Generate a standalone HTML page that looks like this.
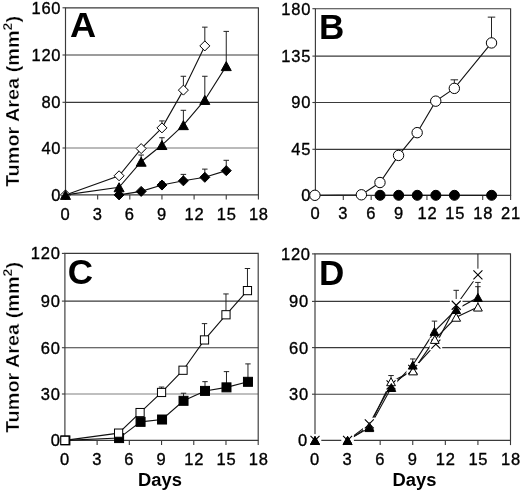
<!DOCTYPE html>
<html><head><meta charset="utf-8"><title>Tumor Area vs Days</title>
<style>
html,body{margin:0;padding:0;background:#fff;}
svg{display:block;will-change:transform;}
text{font-family:"Liberation Sans",Arial,Helvetica,sans-serif;fill:#000;}
.tk{font-size:16.5px;stroke:#000;stroke-width:0.35px;letter-spacing:0.75px;}
.L{font-size:35px;font-weight:bold;}
.ax{font-size:18.1px;font-weight:bold;}
.ay{font-size:19px;font-weight:bold;stroke:#fff;stroke-width:0.3px;}
</style></head><body>
<svg width="520" height="492" viewBox="0 0 520 492">
<rect width="520" height="492" fill="#fff"/>
<line x1="65.5" y1="55.00" x2="258.4" y2="55.00" stroke="#3a3a3a" stroke-width="1.15"/>
<line x1="65.5" y1="102.30" x2="258.4" y2="102.30" stroke="#3a3a3a" stroke-width="1.15"/>
<line x1="65.5" y1="148.00" x2="258.4" y2="148.00" stroke="#777" stroke-width="1.15"/>
<path d="M65.5,7.8H258.4V194.9H65.5Z" fill="none" stroke="#3a3a3a" stroke-width="1.15"/>
<line x1="65.50" y1="194.9" x2="65.50" y2="199.6" stroke="#3a3a3a" stroke-width="1.1"/>
<text x="65.50" y="219.70" text-anchor="middle" class="tk">0</text>
<line x1="97.65" y1="194.9" x2="97.65" y2="199.6" stroke="#3a3a3a" stroke-width="1.1"/>
<text x="97.65" y="219.70" text-anchor="middle" class="tk">3</text>
<line x1="129.80" y1="194.9" x2="129.80" y2="199.6" stroke="#3a3a3a" stroke-width="1.1"/>
<text x="129.80" y="219.70" text-anchor="middle" class="tk">6</text>
<line x1="161.95" y1="194.9" x2="161.95" y2="199.6" stroke="#3a3a3a" stroke-width="1.1"/>
<text x="161.95" y="219.70" text-anchor="middle" class="tk">9</text>
<line x1="194.10" y1="194.9" x2="194.10" y2="199.6" stroke="#3a3a3a" stroke-width="1.1"/>
<text x="194.55" y="219.70" text-anchor="middle" class="tk">12</text>
<line x1="226.25" y1="194.9" x2="226.25" y2="199.6" stroke="#3a3a3a" stroke-width="1.1"/>
<text x="226.70" y="219.70" text-anchor="middle" class="tk">15</text>
<line x1="258.40" y1="194.9" x2="258.40" y2="199.6" stroke="#3a3a3a" stroke-width="1.1"/>
<text x="258.85" y="219.70" text-anchor="middle" class="tk">18</text>
<line x1="62.5" y1="194.90" x2="65.5" y2="194.90" stroke="#3a3a3a" stroke-width="1.1"/>
<text x="61.25" y="200.80" text-anchor="end" class="tk">0</text>
<line x1="62.5" y1="148.00" x2="65.5" y2="148.00" stroke="#3a3a3a" stroke-width="1.1"/>
<text x="61.25" y="153.90" text-anchor="end" class="tk">40</text>
<line x1="62.5" y1="102.30" x2="65.5" y2="102.30" stroke="#3a3a3a" stroke-width="1.1"/>
<text x="61.25" y="108.20" text-anchor="end" class="tk">80</text>
<line x1="62.5" y1="55.00" x2="65.5" y2="55.00" stroke="#3a3a3a" stroke-width="1.1"/>
<text x="61.25" y="60.90" text-anchor="end" class="tk">120</text>
<line x1="62.5" y1="7.80" x2="65.5" y2="7.80" stroke="#3a3a3a" stroke-width="1.1"/>
<text x="61.25" y="13.70" text-anchor="end" class="tk">160</text>
<line x1="161.95" y1="127.89" x2="161.95" y2="120.92" stroke="#222" stroke-width="1"/>
<line x1="159.20" y1="120.92" x2="164.70" y2="120.92" stroke="#222" stroke-width="1"/>
<line x1="183.38" y1="90.12" x2="183.38" y2="76.28" stroke="#222" stroke-width="1"/>
<line x1="180.63" y1="76.28" x2="186.13" y2="76.28" stroke="#222" stroke-width="1"/>
<line x1="204.82" y1="45.91" x2="204.82" y2="27.15" stroke="#222" stroke-width="1"/>
<line x1="202.07" y1="27.15" x2="207.57" y2="27.15" stroke="#222" stroke-width="1"/>
<polyline points="65.50,194.90 119.08,175.79 141.16,148.59 161.95,127.89 183.38,90.12 204.82,45.91" fill="none" stroke="#111" stroke-width="1.1"/>
<polygon points="65.50,189.90 70.50,194.90 65.50,199.90 60.50,194.90" fill="#fff" stroke="#000" stroke-width="1"/>
<polygon points="119.08,170.79 124.08,175.79 119.08,180.79 114.08,175.79" fill="#fff" stroke="#000" stroke-width="1"/>
<polygon points="141.16,143.59 146.16,148.59 141.16,153.59 136.16,148.59" fill="#fff" stroke="#000" stroke-width="1"/>
<polygon points="161.95,122.89 166.95,127.89 161.95,132.89 156.95,127.89" fill="#fff" stroke="#000" stroke-width="1"/>
<polygon points="183.38,85.12 188.38,90.12 183.38,95.12 178.38,90.12" fill="#fff" stroke="#000" stroke-width="1"/>
<polygon points="204.82,40.91 209.82,45.91 204.82,50.91 199.82,45.91" fill="#fff" stroke="#000" stroke-width="1"/>
<line x1="161.95" y1="185.05" x2="161.95" y2="182.00" stroke="#222" stroke-width="1"/>
<line x1="159.20" y1="182.00" x2="164.70" y2="182.00" stroke="#222" stroke-width="1"/>
<line x1="183.38" y1="180.83" x2="183.38" y2="174.38" stroke="#222" stroke-width="1"/>
<line x1="180.63" y1="174.38" x2="186.13" y2="174.38" stroke="#222" stroke-width="1"/>
<line x1="204.82" y1="177.31" x2="204.82" y2="169.11" stroke="#222" stroke-width="1"/>
<line x1="202.07" y1="169.11" x2="207.57" y2="169.11" stroke="#222" stroke-width="1"/>
<line x1="226.25" y1="170.63" x2="226.25" y2="160.31" stroke="#222" stroke-width="1"/>
<line x1="223.50" y1="160.31" x2="229.00" y2="160.31" stroke="#222" stroke-width="1"/>
<polyline points="119.08,194.90 141.16,191.38 161.95,185.05 183.38,180.83 204.82,177.31 226.25,170.63" fill="none" stroke="#111" stroke-width="1.1"/>
<polygon points="119.08,189.90 124.08,194.90 119.08,199.90 114.08,194.90" fill="#000" stroke="#000" stroke-width="1"/>
<polygon points="141.16,186.38 146.16,191.38 141.16,196.38 136.16,191.38" fill="#000" stroke="#000" stroke-width="1"/>
<polygon points="161.95,180.05 166.95,185.05 161.95,190.05 156.95,185.05" fill="#000" stroke="#000" stroke-width="1"/>
<polygon points="183.38,175.83 188.38,180.83 183.38,185.83 178.38,180.83" fill="#000" stroke="#000" stroke-width="1"/>
<polygon points="204.82,172.31 209.82,177.31 204.82,182.31 199.82,177.31" fill="#000" stroke="#000" stroke-width="1"/>
<polygon points="226.25,165.63 231.25,170.63 226.25,175.63 221.25,170.63" fill="#000" stroke="#000" stroke-width="1"/>
<line x1="141.16" y1="161.72" x2="141.16" y2="155.03" stroke="#222" stroke-width="1"/>
<line x1="138.41" y1="155.03" x2="143.91" y2="155.03" stroke="#222" stroke-width="1"/>
<line x1="161.95" y1="145.03" x2="161.95" y2="137.72" stroke="#222" stroke-width="1"/>
<line x1="159.20" y1="137.72" x2="164.70" y2="137.72" stroke="#222" stroke-width="1"/>
<line x1="183.38" y1="125.15" x2="183.38" y2="110.30" stroke="#222" stroke-width="1"/>
<line x1="180.63" y1="110.30" x2="186.13" y2="110.30" stroke="#222" stroke-width="1"/>
<line x1="204.82" y1="99.94" x2="204.82" y2="76.28" stroke="#222" stroke-width="1"/>
<line x1="202.07" y1="76.28" x2="207.57" y2="76.28" stroke="#222" stroke-width="1"/>
<line x1="226.25" y1="66.12" x2="226.25" y2="31.40" stroke="#222" stroke-width="1"/>
<line x1="223.50" y1="31.40" x2="229.00" y2="31.40" stroke="#222" stroke-width="1"/>
<polyline points="65.50,194.90 119.08,187.28 141.16,161.72 161.95,145.03 183.38,125.15 204.82,99.94 226.25,66.12" fill="none" stroke="#111" stroke-width="1.1"/>
<polygon points="65.50,190.40 70.50,199.40 60.50,199.40" fill="#000" stroke="#000" stroke-width="1"/>
<polygon points="119.08,182.78 124.08,191.78 114.08,191.78" fill="#000" stroke="#000" stroke-width="1"/>
<polygon points="141.16,157.22 146.16,166.22 136.16,166.22" fill="#000" stroke="#000" stroke-width="1"/>
<polygon points="161.95,140.53 166.95,149.53 156.95,149.53" fill="#000" stroke="#000" stroke-width="1"/>
<polygon points="183.38,120.65 188.38,129.65 178.38,129.65" fill="#000" stroke="#000" stroke-width="1"/>
<polygon points="204.82,95.44 209.82,104.44 199.82,104.44" fill="#000" stroke="#000" stroke-width="1"/>
<polygon points="226.25,61.62 231.25,70.62 221.25,70.62" fill="#000" stroke="#000" stroke-width="1"/>
<line x1="315.4" y1="56.10" x2="510.6" y2="56.10" stroke="#3a3a3a" stroke-width="1.15"/>
<line x1="315.4" y1="102.50" x2="510.6" y2="102.50" stroke="#3a3a3a" stroke-width="1.15"/>
<line x1="315.4" y1="149.30" x2="510.6" y2="149.30" stroke="#3a3a3a" stroke-width="1.15"/>
<path d="M315.4,8.7H510.6V195.3H315.4Z" fill="none" stroke="#3a3a3a" stroke-width="1.15"/>
<line x1="315.40" y1="195.3" x2="315.40" y2="200.0" stroke="#3a3a3a" stroke-width="1.1"/>
<text x="315.40" y="219.10" text-anchor="middle" class="tk">0</text>
<line x1="343.29" y1="195.3" x2="343.29" y2="200.0" stroke="#3a3a3a" stroke-width="1.1"/>
<text x="343.29" y="219.10" text-anchor="middle" class="tk">3</text>
<line x1="371.17" y1="195.3" x2="371.17" y2="200.0" stroke="#3a3a3a" stroke-width="1.1"/>
<text x="371.17" y="219.10" text-anchor="middle" class="tk">6</text>
<line x1="399.06" y1="195.3" x2="399.06" y2="200.0" stroke="#3a3a3a" stroke-width="1.1"/>
<text x="399.06" y="219.10" text-anchor="middle" class="tk">9</text>
<line x1="426.94" y1="195.3" x2="426.94" y2="200.0" stroke="#3a3a3a" stroke-width="1.1"/>
<text x="427.39" y="219.10" text-anchor="middle" class="tk">12</text>
<line x1="454.83" y1="195.3" x2="454.83" y2="200.0" stroke="#3a3a3a" stroke-width="1.1"/>
<text x="455.28" y="219.10" text-anchor="middle" class="tk">15</text>
<line x1="482.71" y1="195.3" x2="482.71" y2="200.0" stroke="#3a3a3a" stroke-width="1.1"/>
<text x="483.16" y="219.10" text-anchor="middle" class="tk">18</text>
<line x1="510.60" y1="195.3" x2="510.60" y2="200.0" stroke="#3a3a3a" stroke-width="1.1"/>
<text x="511.05" y="219.10" text-anchor="middle" class="tk">21</text>
<line x1="312.4" y1="195.30" x2="315.4" y2="195.30" stroke="#3a3a3a" stroke-width="1.1"/>
<text x="311.15" y="201.20" text-anchor="end" class="tk">0</text>
<line x1="312.4" y1="149.30" x2="315.4" y2="149.30" stroke="#3a3a3a" stroke-width="1.1"/>
<text x="311.15" y="155.20" text-anchor="end" class="tk">45</text>
<line x1="312.4" y1="102.50" x2="315.4" y2="102.50" stroke="#3a3a3a" stroke-width="1.1"/>
<text x="311.15" y="108.40" text-anchor="end" class="tk">90</text>
<line x1="312.4" y1="56.10" x2="315.4" y2="56.10" stroke="#3a3a3a" stroke-width="1.1"/>
<text x="311.15" y="62.00" text-anchor="end" class="tk">135</text>
<line x1="312.4" y1="8.70" x2="315.4" y2="8.70" stroke="#3a3a3a" stroke-width="1.1"/>
<text x="311.15" y="14.60" text-anchor="end" class="tk">180</text>
<polyline points="380.07,195.30 398.66,195.30 417.25,195.30 435.84,195.30 454.43,195.30 491.61,195.30" fill="none" stroke="#111" stroke-width="1.1"/>
<circle cx="380.07" cy="195.30" r="5" fill="#000" stroke="#000" stroke-width="1"/>
<circle cx="398.66" cy="195.30" r="5" fill="#000" stroke="#000" stroke-width="1"/>
<circle cx="417.25" cy="195.30" r="5" fill="#000" stroke="#000" stroke-width="1"/>
<circle cx="435.84" cy="195.30" r="5" fill="#000" stroke="#000" stroke-width="1"/>
<circle cx="454.43" cy="195.30" r="5" fill="#000" stroke="#000" stroke-width="1"/>
<circle cx="491.61" cy="195.30" r="5" fill="#000" stroke="#000" stroke-width="1"/>
<line x1="454.33" y1="88.37" x2="454.33" y2="79.82" stroke="#222" stroke-width="1"/>
<line x1="450.58" y1="79.82" x2="458.08" y2="79.82" stroke="#222" stroke-width="1"/>
<line x1="491.51" y1="42.93" x2="491.51" y2="17.13" stroke="#222" stroke-width="1"/>
<line x1="487.76" y1="17.13" x2="495.26" y2="17.13" stroke="#222" stroke-width="1"/>
<polyline points="314.90,195.30 361.38,194.79 379.97,182.52 398.56,155.43 417.15,132.66 435.74,101.16 454.33,88.37 491.51,42.93" fill="none" stroke="#111" stroke-width="1.1"/>
<circle cx="314.90" cy="195.30" r="5.2" fill="#fff" stroke="#000" stroke-width="1"/>
<circle cx="361.38" cy="194.79" r="5.2" fill="#fff" stroke="#000" stroke-width="1"/>
<circle cx="379.97" cy="182.52" r="5.2" fill="#fff" stroke="#000" stroke-width="1"/>
<circle cx="398.56" cy="155.43" r="5.2" fill="#fff" stroke="#000" stroke-width="1"/>
<circle cx="417.15" cy="132.66" r="5.2" fill="#fff" stroke="#000" stroke-width="1"/>
<circle cx="435.74" cy="101.16" r="5.2" fill="#fff" stroke="#000" stroke-width="1"/>
<circle cx="454.33" cy="88.37" r="5.2" fill="#fff" stroke="#000" stroke-width="1"/>
<circle cx="491.51" cy="42.93" r="5.2" fill="#fff" stroke="#000" stroke-width="1"/>
<line x1="64.9" y1="301.10" x2="258.2" y2="301.10" stroke="#3a3a3a" stroke-width="1.15"/>
<line x1="64.9" y1="347.70" x2="258.2" y2="347.70" stroke="#3a3a3a" stroke-width="1.15"/>
<line x1="64.9" y1="394.00" x2="258.2" y2="394.00" stroke="#808080" stroke-width="1.15"/>
<path d="M64.9,253.4H258.2V440.4H64.9Z" fill="none" stroke="#3a3a3a" stroke-width="1.15"/>
<line x1="64.90" y1="440.4" x2="64.90" y2="445.09999999999997" stroke="#3a3a3a" stroke-width="1.1"/>
<text x="64.90" y="465.20" text-anchor="middle" class="tk">0</text>
<line x1="97.12" y1="440.4" x2="97.12" y2="445.09999999999997" stroke="#3a3a3a" stroke-width="1.1"/>
<text x="97.12" y="465.20" text-anchor="middle" class="tk">3</text>
<line x1="129.33" y1="440.4" x2="129.33" y2="445.09999999999997" stroke="#3a3a3a" stroke-width="1.1"/>
<text x="129.33" y="465.20" text-anchor="middle" class="tk">6</text>
<line x1="161.55" y1="440.4" x2="161.55" y2="445.09999999999997" stroke="#3a3a3a" stroke-width="1.1"/>
<text x="161.55" y="465.20" text-anchor="middle" class="tk">9</text>
<line x1="193.77" y1="440.4" x2="193.77" y2="445.09999999999997" stroke="#3a3a3a" stroke-width="1.1"/>
<text x="194.22" y="465.20" text-anchor="middle" class="tk">12</text>
<line x1="225.98" y1="440.4" x2="225.98" y2="445.09999999999997" stroke="#3a3a3a" stroke-width="1.1"/>
<text x="226.43" y="465.20" text-anchor="middle" class="tk">15</text>
<line x1="258.20" y1="440.4" x2="258.20" y2="445.09999999999997" stroke="#3a3a3a" stroke-width="1.1"/>
<text x="258.65" y="465.20" text-anchor="middle" class="tk">18</text>
<line x1="61.900000000000006" y1="440.40" x2="64.9" y2="440.40" stroke="#3a3a3a" stroke-width="1.1"/>
<text x="60.65" y="446.30" text-anchor="end" class="tk">0</text>
<line x1="61.900000000000006" y1="394.00" x2="64.9" y2="394.00" stroke="#3a3a3a" stroke-width="1.1"/>
<text x="60.65" y="399.90" text-anchor="end" class="tk">30</text>
<line x1="61.900000000000006" y1="347.70" x2="64.9" y2="347.70" stroke="#3a3a3a" stroke-width="1.1"/>
<text x="60.65" y="353.60" text-anchor="end" class="tk">60</text>
<line x1="61.900000000000006" y1="301.10" x2="64.9" y2="301.10" stroke="#3a3a3a" stroke-width="1.1"/>
<text x="60.65" y="307.00" text-anchor="end" class="tk">90</text>
<line x1="61.900000000000006" y1="253.40" x2="64.9" y2="253.40" stroke="#3a3a3a" stroke-width="1.1"/>
<text x="60.65" y="259.30" text-anchor="end" class="tk">120</text>
<line x1="183.53" y1="400.81" x2="183.53" y2="393.23" stroke="#222" stroke-width="1"/>
<line x1="180.83" y1="393.23" x2="186.23" y2="393.23" stroke="#222" stroke-width="1"/>
<line x1="205.01" y1="390.91" x2="205.01" y2="381.65" stroke="#222" stroke-width="1"/>
<line x1="202.31" y1="381.65" x2="207.71" y2="381.65" stroke="#222" stroke-width="1"/>
<line x1="226.48" y1="387.36" x2="226.48" y2="371.62" stroke="#222" stroke-width="1"/>
<line x1="223.78" y1="371.62" x2="229.18" y2="371.62" stroke="#222" stroke-width="1"/>
<line x1="247.96" y1="381.81" x2="247.96" y2="363.90" stroke="#222" stroke-width="1"/>
<line x1="245.26" y1="363.90" x2="250.66" y2="363.90" stroke="#222" stroke-width="1"/>
<polyline points="65.40,440.40 119.09,438.08 140.57,421.84 162.05,419.52 183.53,400.81 205.01,390.91 226.48,387.36 247.96,381.81" fill="none" stroke="#111" stroke-width="1.1"/>
<rect x="60.90" y="435.90" width="9.0" height="9.0" fill="#000" stroke="#000" stroke-width="1"/>
<rect x="114.59" y="433.58" width="9.0" height="9.0" fill="#000" stroke="#000" stroke-width="1"/>
<rect x="136.07" y="417.34" width="9.0" height="9.0" fill="#000" stroke="#000" stroke-width="1"/>
<rect x="157.55" y="415.02" width="9.0" height="9.0" fill="#000" stroke="#000" stroke-width="1"/>
<rect x="179.03" y="396.31" width="9.0" height="9.0" fill="#000" stroke="#000" stroke-width="1"/>
<rect x="200.51" y="386.41" width="9.0" height="9.0" fill="#000" stroke="#000" stroke-width="1"/>
<rect x="221.98" y="382.86" width="9.0" height="9.0" fill="#000" stroke="#000" stroke-width="1"/>
<rect x="243.46" y="377.31" width="9.0" height="9.0" fill="#000" stroke="#000" stroke-width="1"/>
<line x1="161.55" y1="392.46" x2="161.55" y2="387.06" stroke="#222" stroke-width="1"/>
<line x1="158.85" y1="387.06" x2="164.25" y2="387.06" stroke="#222" stroke-width="1"/>
<line x1="204.51" y1="339.93" x2="204.51" y2="323.62" stroke="#222" stroke-width="1"/>
<line x1="201.81" y1="323.62" x2="207.21" y2="323.62" stroke="#222" stroke-width="1"/>
<line x1="225.98" y1="314.77" x2="225.98" y2="293.95" stroke="#222" stroke-width="1"/>
<line x1="223.28" y1="293.95" x2="228.68" y2="293.95" stroke="#222" stroke-width="1"/>
<line x1="247.46" y1="290.61" x2="247.46" y2="268.50" stroke="#222" stroke-width="1"/>
<line x1="244.76" y1="268.50" x2="250.16" y2="268.50" stroke="#222" stroke-width="1"/>
<polyline points="64.90,440.40 118.59,433.13 140.07,412.56 161.55,392.46 183.03,370.23 204.51,339.93 225.98,314.77 247.46,290.61" fill="none" stroke="#111" stroke-width="1.1"/>
<rect x="60.80" y="436.30" width="8.2" height="8.2" fill="#fff" stroke="#000" stroke-width="1"/>
<rect x="114.49" y="429.03" width="8.2" height="8.2" fill="#fff" stroke="#000" stroke-width="1"/>
<rect x="135.97" y="408.46" width="8.2" height="8.2" fill="#fff" stroke="#000" stroke-width="1"/>
<rect x="157.45" y="388.36" width="8.2" height="8.2" fill="#fff" stroke="#000" stroke-width="1"/>
<rect x="178.93" y="366.13" width="8.2" height="8.2" fill="#fff" stroke="#000" stroke-width="1"/>
<rect x="200.41" y="335.83" width="8.2" height="8.2" fill="#fff" stroke="#000" stroke-width="1"/>
<rect x="221.88" y="310.67" width="8.2" height="8.2" fill="#fff" stroke="#000" stroke-width="1"/>
<rect x="243.36" y="286.51" width="8.2" height="8.2" fill="#fff" stroke="#000" stroke-width="1"/>
<line x1="315.0" y1="301.40" x2="510.5" y2="301.40" stroke="#3a3a3a" stroke-width="1.15"/>
<line x1="315.0" y1="347.60" x2="510.5" y2="347.60" stroke="#3a3a3a" stroke-width="1.15"/>
<line x1="315.0" y1="394.20" x2="510.5" y2="394.20" stroke="#3a3a3a" stroke-width="1.15"/>
<path d="M315.0,253.9H510.5V440.4H315.0Z" fill="none" stroke="#3a3a3a" stroke-width="1.15"/>
<line x1="315.00" y1="440.4" x2="315.00" y2="445.09999999999997" stroke="#3a3a3a" stroke-width="1.1"/>
<text x="315.00" y="465.20" text-anchor="middle" class="tk">0</text>
<line x1="347.58" y1="440.4" x2="347.58" y2="445.09999999999997" stroke="#3a3a3a" stroke-width="1.1"/>
<text x="347.58" y="465.20" text-anchor="middle" class="tk">3</text>
<line x1="380.17" y1="440.4" x2="380.17" y2="445.09999999999997" stroke="#3a3a3a" stroke-width="1.1"/>
<text x="380.17" y="465.20" text-anchor="middle" class="tk">6</text>
<line x1="412.75" y1="440.4" x2="412.75" y2="445.09999999999997" stroke="#3a3a3a" stroke-width="1.1"/>
<text x="412.75" y="465.20" text-anchor="middle" class="tk">9</text>
<line x1="445.33" y1="440.4" x2="445.33" y2="445.09999999999997" stroke="#3a3a3a" stroke-width="1.1"/>
<text x="445.78" y="465.20" text-anchor="middle" class="tk">12</text>
<line x1="477.92" y1="440.4" x2="477.92" y2="445.09999999999997" stroke="#3a3a3a" stroke-width="1.1"/>
<text x="478.37" y="465.20" text-anchor="middle" class="tk">15</text>
<line x1="510.50" y1="440.4" x2="510.50" y2="445.09999999999997" stroke="#3a3a3a" stroke-width="1.1"/>
<text x="510.95" y="465.20" text-anchor="middle" class="tk">18</text>
<line x1="312.0" y1="440.40" x2="315.0" y2="440.40" stroke="#3a3a3a" stroke-width="1.1"/>
<text x="307.85" y="446.30" text-anchor="end" class="tk">0</text>
<line x1="312.0" y1="394.20" x2="315.0" y2="394.20" stroke="#3a3a3a" stroke-width="1.1"/>
<text x="308.85" y="400.10" text-anchor="end" class="tk">30</text>
<line x1="312.0" y1="347.60" x2="315.0" y2="347.60" stroke="#3a3a3a" stroke-width="1.1"/>
<text x="308.85" y="353.50" text-anchor="end" class="tk">60</text>
<line x1="312.0" y1="301.40" x2="315.0" y2="301.40" stroke="#3a3a3a" stroke-width="1.1"/>
<text x="308.85" y="307.30" text-anchor="end" class="tk">90</text>
<line x1="312.0" y1="253.90" x2="315.0" y2="253.90" stroke="#3a3a3a" stroke-width="1.1"/>
<text x="310.75" y="259.80" text-anchor="end" class="tk">120</text>
<line x1="456.19" y1="305.25" x2="456.19" y2="290.32" stroke="#222" stroke-width="1"/>
<line x1="453.44" y1="290.32" x2="458.94" y2="290.32" stroke="#222" stroke-width="1"/>
<line x1="477.92" y1="274.96" x2="477.92" y2="253.90" stroke="#222" stroke-width="1"/>
<polyline points="347.58,440.40 369.31,423.92 391.03,384.88 412.75,369.35 435.88,344.06 456.19,305.25 477.92,274.96" fill="none" stroke="#111" stroke-width="1.1"/>
<line x1="391.03" y1="381.77" x2="391.03" y2="375.56" stroke="#222" stroke-width="1"/>
<line x1="388.28" y1="375.56" x2="393.78" y2="375.56" stroke="#222" stroke-width="1"/>
<line x1="477.92" y1="307.10" x2="477.92" y2="286.68" stroke="#222" stroke-width="1"/>
<line x1="475.17" y1="286.68" x2="480.67" y2="286.68" stroke="#222" stroke-width="1"/>
<polyline points="347.58,440.40 369.31,426.54 391.03,381.77 413.08,370.90 434.80,339.44 456.19,317.26 477.92,307.10" fill="none" stroke="#111" stroke-width="1.1"/>
<line x1="412.75" y1="365.15" x2="412.75" y2="358.94" stroke="#222" stroke-width="1"/>
<line x1="410.00" y1="358.94" x2="415.50" y2="358.94" stroke="#222" stroke-width="1"/>
<line x1="434.47" y1="331.43" x2="434.47" y2="321.11" stroke="#222" stroke-width="1"/>
<line x1="431.72" y1="321.11" x2="437.22" y2="321.11" stroke="#222" stroke-width="1"/>
<line x1="477.92" y1="297.44" x2="477.92" y2="282.40" stroke="#222" stroke-width="1"/>
<line x1="475.17" y1="282.40" x2="480.67" y2="282.40" stroke="#222" stroke-width="1"/>
<polyline points="347.58,440.40 369.31,427.62 391.35,387.52 412.75,365.15 434.47,331.43 456.19,309.56 477.92,297.44" fill="none" stroke="#111" stroke-width="1.1"/>
<rect x="308.70" y="434.10" width="12.6" height="12.6" fill="#fff"/>
<path d="M310.50,435.90L319.50,444.90M310.50,444.90L319.50,435.90" stroke="#000" stroke-width="1.1" fill="none"/>
<rect x="341.28" y="434.10" width="12.6" height="12.6" fill="#fff"/>
<path d="M343.08,435.90L352.08,444.90M343.08,444.90L352.08,435.90" stroke="#000" stroke-width="1.1" fill="none"/>
<rect x="363.01" y="417.62" width="12.6" height="12.6" fill="#fff"/>
<path d="M364.81,419.42L373.81,428.42M364.81,428.42L373.81,419.42" stroke="#000" stroke-width="1.1" fill="none"/>
<rect x="384.73" y="378.58" width="12.6" height="12.6" fill="#fff"/>
<path d="M386.53,380.38L395.53,389.38M386.53,389.38L395.53,380.38" stroke="#000" stroke-width="1.1" fill="none"/>
<rect x="406.45" y="363.05" width="12.6" height="12.6" fill="#fff"/>
<path d="M408.25,364.85L417.25,373.85M408.25,373.85L417.25,364.85" stroke="#000" stroke-width="1.1" fill="none"/>
<rect x="429.58" y="337.76" width="12.6" height="12.6" fill="#fff"/>
<path d="M431.38,339.56L440.38,348.56M431.38,348.56L440.38,339.56" stroke="#000" stroke-width="1.1" fill="none"/>
<rect x="449.89" y="298.95" width="12.6" height="12.6" fill="#fff"/>
<path d="M451.69,300.75L460.69,309.75M451.69,309.75L460.69,300.75" stroke="#000" stroke-width="1.1" fill="none"/>
<rect x="471.62" y="268.66" width="12.6" height="12.6" fill="#fff"/>
<path d="M473.42,270.46L482.42,279.46M473.42,279.46L482.42,270.46" stroke="#000" stroke-width="1.1" fill="none"/>
<polygon points="315.00,436.44 319.40,444.36 310.60,444.36" fill="#fff" stroke="#000" stroke-width="1"/>
<polygon points="347.58,436.44 351.98,444.36 343.18,444.36" fill="#fff" stroke="#000" stroke-width="1"/>
<polygon points="369.31,422.58 373.71,430.50 364.91,430.50" fill="#fff" stroke="#000" stroke-width="1"/>
<polygon points="391.03,377.81 395.43,385.73 386.63,385.73" fill="#fff" stroke="#000" stroke-width="1"/>
<polygon points="413.08,366.94 417.48,374.86 408.68,374.86" fill="#fff" stroke="#000" stroke-width="1"/>
<polygon points="434.80,335.48 439.20,343.40 430.40,343.40" fill="#fff" stroke="#000" stroke-width="1"/>
<polygon points="456.19,313.30 460.59,321.22 451.79,321.22" fill="#fff" stroke="#000" stroke-width="1"/>
<polygon points="477.92,303.14 482.32,311.06 473.52,311.06" fill="#fff" stroke="#000" stroke-width="1"/>
<polygon points="315.00,436.44 319.40,444.36 310.60,444.36" fill="#000" stroke="#000" stroke-width="1"/>
<polygon points="347.58,436.44 351.98,444.36 343.18,444.36" fill="#000" stroke="#000" stroke-width="1"/>
<polygon points="369.31,423.66 373.71,431.58 364.91,431.58" fill="#000" stroke="#000" stroke-width="1"/>
<polygon points="391.35,383.56 395.75,391.48 386.95,391.48" fill="#000" stroke="#000" stroke-width="1"/>
<polygon points="412.75,361.19 417.15,369.11 408.35,369.11" fill="#000" stroke="#000" stroke-width="1"/>
<polygon points="434.47,327.47 438.87,335.39 430.07,335.39" fill="#000" stroke="#000" stroke-width="1"/>
<polygon points="456.19,305.60 460.59,313.52 451.79,313.52" fill="#000" stroke="#000" stroke-width="1"/>
<polygon points="477.92,293.48 482.32,301.40 473.52,301.40" fill="#000" stroke="#000" stroke-width="1"/>
<text transform="translate(70.1,37) scale(1.035,1)" class="L">A</text>
<text x="319.1" y="39.1" class="L">B</text>
<text x="67.8" y="283.8" class="L">C</text>
<text x="318.9" y="285.1" class="L">D</text>
<text transform="translate(160,486) scale(1.015,1)" text-anchor="middle" class="ax">Days</text>
<text transform="translate(414.5,486) scale(1.015,1)" text-anchor="middle" class="ax">Days</text>
<text transform="translate(19,101.5) rotate(-90) scale(1.045,1)" text-anchor="middle" class="ay">Tumor Area (mm<tspan dy="-7.4" font-size="13.5">2</tspan><tspan dy="7.4">)</tspan></text>
<text transform="translate(19,347.5) rotate(-90) scale(1.045,1)" text-anchor="middle" class="ay">Tumor Area (mm<tspan dy="-7.4" font-size="13.5">2</tspan><tspan dy="7.4">)</tspan></text>
</svg>
</body></html>
